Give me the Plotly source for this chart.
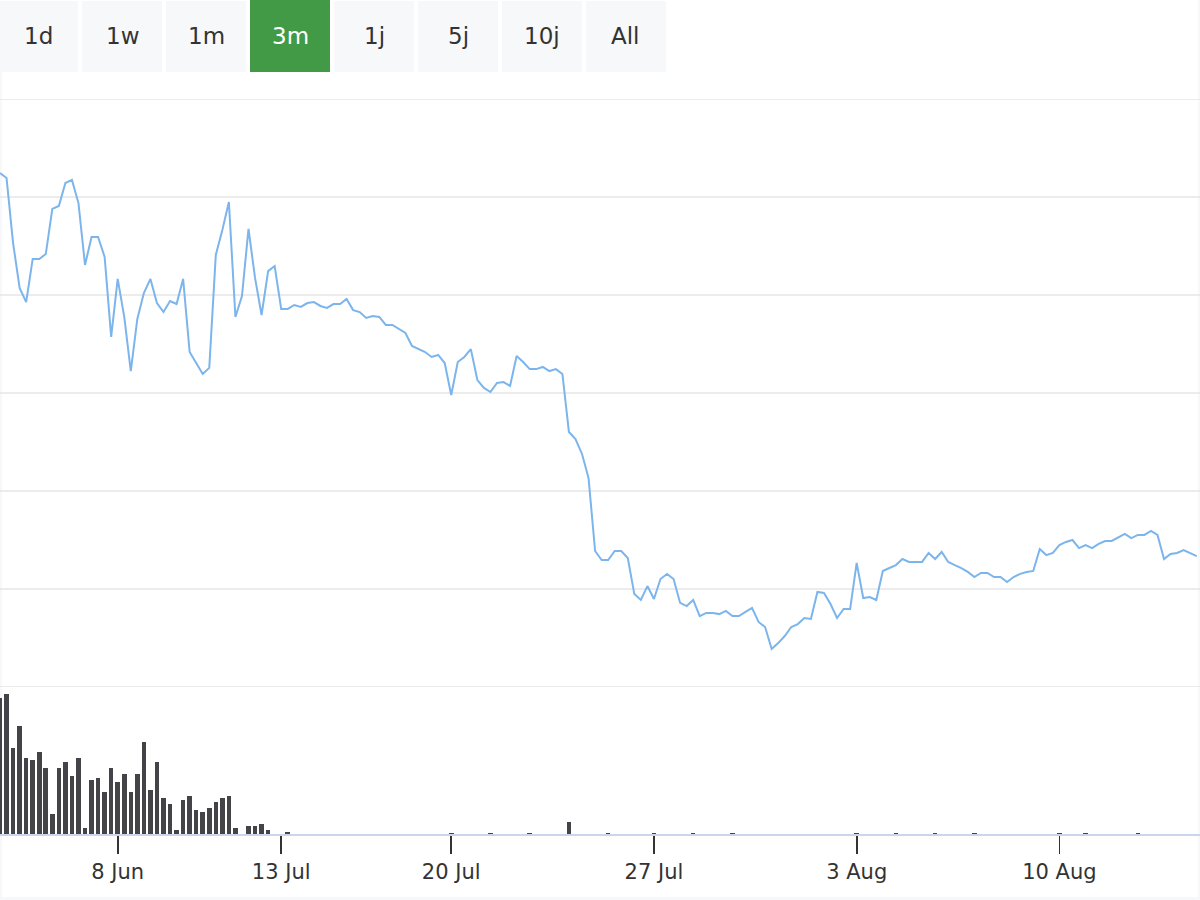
import plotly.graph_objects as go

# ---------------- data ----------------
price = [
    66.22, 65.97, 62.65, 60.36, 59.64, 61.84, 61.84, 62.09, 64.39, 64.54,
    65.71, 65.87, 64.69, 61.53, 62.96, 62.96, 61.94, 57.86, 60.82, 58.88,
    56.12, 58.78, 60.10, 60.82, 59.59, 59.13, 59.69, 59.54, 60.82, 57.09,
    56.53, 55.97, 56.28, 62.04, 63.32, 64.74, 58.88, 59.95, 63.37, 60.87,
    58.98, 61.22, 61.48, 59.29, 59.29, 59.49, 59.39, 59.59, 59.64, 59.44,
    59.34, 59.54, 59.54, 59.80, 59.23, 59.13, 58.83, 58.93, 58.88, 58.47,
    58.47, 58.27, 58.06, 57.40, 57.24, 57.09, 56.84, 56.94, 56.53, 54.90,
    56.58, 56.84, 57.24, 55.66, 55.26, 55.05, 55.51, 55.56, 55.36, 56.89,
    56.58, 56.22, 56.22, 56.33, 56.12, 56.22, 55.97, 53.01, 52.65, 51.89,
    50.66, 46.94, 46.48, 46.48, 46.94, 46.94, 46.58, 44.74, 44.44, 45.15,
    44.49, 45.51, 45.77, 45.51, 44.29, 44.13, 44.44, 43.62, 43.78, 43.78,
    43.72, 43.88, 43.62, 43.62, 43.83, 44.03, 43.32, 43.06, 41.94, 42.24,
    42.60, 43.06, 43.21, 43.52, 43.47, 44.85, 44.80, 44.23, 43.52, 43.98,
    43.98, 46.33, 44.54, 44.59, 44.44, 45.92, 46.07, 46.22, 46.53, 46.38,
    46.38, 46.38, 46.84, 46.53, 46.89, 46.38, 46.22, 46.07, 45.87, 45.61,
    45.82, 45.82, 45.61, 45.61, 45.36, 45.61, 45.77, 45.87, 45.92, 47.04,
    46.73, 46.84, 47.24, 47.40, 47.50, 47.09, 47.24, 47.09, 47.30, 47.45,
    47.45, 47.65, 47.81, 47.60, 47.76, 47.76, 47.96, 47.76, 46.53, 46.79,
    46.84, 46.99, 46.84, 46.68,
]

volume = [
    13600, 14000, 8600, 10800, 7600, 7400, 8200, 6600, 2000, 6600,
    7200, 5800, 7600, 600, 5400, 5600, 4200, 6600, 5200, 6000,
    4200, 6000, 9200, 4400, 7200, 3600, 3000, 400, 3400, 3800,
    2400, 2200, 2600, 3200, 3600, 3800, 600, 0, 800, 800,
    1000, 400, 0, 0, 200, 0, 0, 0, 0, 0,
    0, 0, 0, 0, 0, 0, 0, 0, 0, 0,
    0, 0, 0, 0, 0, 0, 0, 0, 0, 150,
    0, 0, 0, 0, 0, 150, 0, 0, 0, 0,
    0, 150, 0, 0, 0, 0, 0, 1200, 0, 0,
    0, 0, 0, 150, 0, 0, 0, 0, 0, 0,
    150, 0, 0, 0, 0, 0, 150, 0, 0, 0,
    0, 0, 150, 0, 0, 0, 0, 0, 0, 0,
    0, 0, 0, 0, 0, 0, 0, 0, 0, 0,
    0, 150, 0, 0, 0, 0, 0, 150, 0, 0,
    0, 0, 0, 150, 0, 0, 0, 0, 0, 150,
    0, 0, 0, 0, 0, 0, 0, 0, 0, 0,
    0, 0, 150, 0, 0, 0, 150, 0, 0, 0,
    0, 0, 0, 0, 150, 0, 0, 0, 0, 0,
    0, 0, 0, 0,
]

tick_index = [18, 43, 69, 100, 131, 162]
tick_labels = ["8 Jun", "13 Jul", "20 Jul", "27 Jul", "3 Aug", "10 Aug"]

price_grid = [40, 45, 50, 55, 60, 65, 70]

buttons = ["1d", "1w", "1m", "3m", "1j", "5j", "10j", "All"]
active_button = "3m"

# ---------------- figure ----------------
W, H = 1200, 900
FONT = "DejaVu Sans"
idx = list(range(len(price)))

fig = go.Figure()
fig.add_trace(go.Scatter(
    x=idx, y=price, mode="lines",
    line=dict(color="#7cb5ec", width=2),
    xaxis="x2", yaxis="y", hoverinfo="skip", showlegend=False,
))
fig.add_trace(go.Bar(
    x=idx, y=volume, width=0.7,
    marker=dict(color="#434348", line=dict(width=0)),
    xaxis="x", yaxis="y2", hoverinfo="skip", showlegend=False,
))

def px_x(v):
    return v / W

def px_y(v):
    return 1 - v / H

shapes = []
annotations = []

# faint page-edge strips
for (a, b, c, d) in [(0, 2, 72, 900), (1198, 1200, 0, 900), (0, 1200, 897, 900)]:
    shapes.append(dict(
        type="rect", xref="paper", yref="paper",
        x0=px_x(a), x1=px_x(b), y0=px_y(d), y1=px_y(c),
        fillcolor="#f7f8fa", line=dict(width=0), layer="below",
    ))

# horizontal grid lines of the price pane
for g in price_grid:
    shapes.append(dict(
        type="line", xref="paper", yref="y", x0=0, x1=1, y0=g, y1=g,
        line=dict(color="#e6e6e6", width=1.5), layer="below",
    ))

for i, lab in enumerate(buttons):
    x0 = 84 * i - 2
    x1 = x0 + 80
    active = lab == active_button
    shapes.append(dict(
        type="rect", xref="paper", yref="paper",
        x0=px_x(x0), x1=px_x(x1), y0=px_y(72), y1=px_y(0 if active else 1),
        fillcolor="#439a46" if active else "#f7f8fa", line=dict(width=0),
    ))
    annotations.append(dict(
        xref="paper", yref="paper", x=px_x((x0 + x1) / 2), y=px_y(36),
        text=lab, showarrow=False, xanchor="center", yanchor="middle",
        font=dict(family=FONT, size=23, color="#ffffff" if active else "#333333"),
    ))

fig.update_layout(
    width=W, height=H,
    margin=dict(l=0, r=0, t=0, b=0, pad=0),
    paper_bgcolor="#ffffff", plot_bgcolor="rgba(0,0,0,0)",
    bargap=0, showlegend=False,
    font=dict(family=FONT, color="#333333"),
    xaxis=dict(
        domain=[0, 1], anchor="y2", range=[0, 183.5],
        tickmode="array", tickvals=tick_index, ticktext=tick_labels,
        ticks="outside", ticklen=18, tickwidth=1.8, tickcolor="#333333",
        showline=True, linecolor="#ccd6eb", linewidth=2,
        showgrid=False, zeroline=False,
        tickfont=dict(family=FONT, size=21, color="#333333"),
        automargin=False, fixedrange=True,
    ),
    xaxis2=dict(
        matches="x", anchor="y", domain=[0, 1],
        showticklabels=False, showgrid=False, zeroline=False,
        showline=False, ticks="", fixedrange=True,
    ),
    yaxis=dict(
        domain=[px_y(687), px_y(99)], range=[40, 70],
        showgrid=False, showticklabels=False, zeroline=False,
        showline=False, ticks="", automargin=False, fixedrange=True,
    ),
    yaxis2=dict(
        domain=[px_y(834), px_y(687)], range=[0, 14700],
        showgrid=False, showticklabels=False, zeroline=False,
        showline=False, ticks="", automargin=False, fixedrange=True,
    ),
    shapes=shapes,
    annotations=annotations,
)

fig.write_html(
    "out.html",
    config={"displayModeBar": False, "staticPlot": True},
    post_script="document.body.style.margin='0';document.body.style.overflow='hidden';",
)
